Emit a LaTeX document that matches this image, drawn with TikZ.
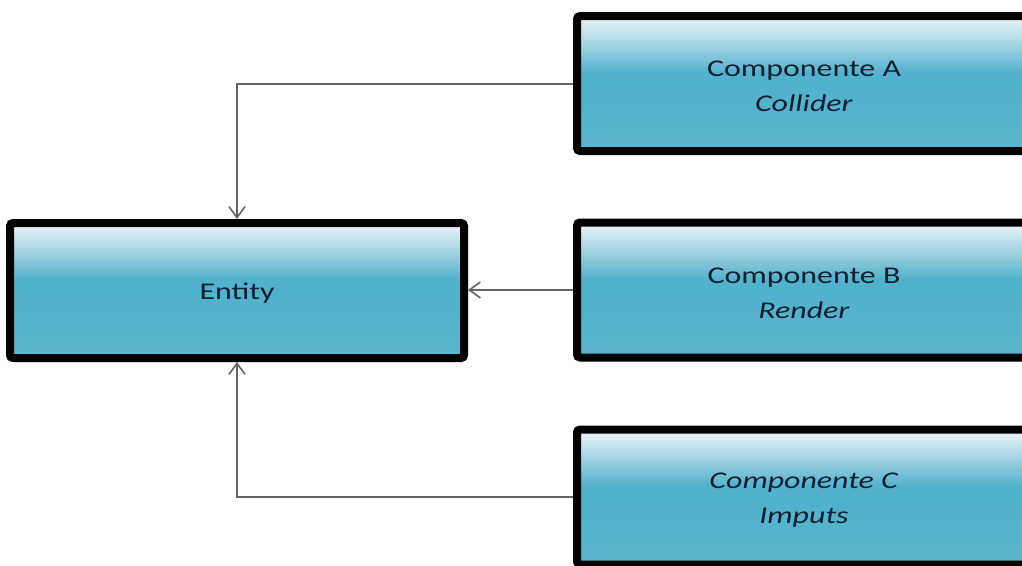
\documentclass[tikz,border=0pt]{standalone}
\usepackage{fontspec}
\setmainfont{Carlito}[FakeStretch=1.33]
\usetikzlibrary{arrows.meta}

\definecolor{boxtop}{RGB}{238,246,249}
\definecolor{boxsoft}{RGB}{160,210,225}
\definecolor{boxmid}{RGB}{82,177,204}
\definecolor{boxlow}{RGB}{92,181,206}
\definecolor{txt}{RGB}{16,32,50}
\definecolor{wire}{RGB}{100,100,100}

% light band at the top, blue body below (path spans 25bp..75bp)
\pgfdeclareverticalshading{boxshade}{100bp}{%
  color(0bp)=(boxlow); color(25bp)=(boxlow); color(47bp)=(boxmid);
  color(54bp)=(boxmid); color(64bp)=(boxsoft); color(75bp)=(boxtop);
  color(100bp)=(boxtop)}

\tikzset{
  compbox/.style={draw=black, line width=8pt, rounded corners=3pt,
    shading=boxshade, minimum width=454pt, minimum height=135pt,
    inner sep=0pt},
  boxtext/.style={text=txt, align=center, inner sep=0pt,
    font=\fontsize{24}{35}\selectfont},
  conn/.style={draw=wire, line width=2pt,
    -{Straight Barb[length=11pt,width=16pt,line width=1.6pt]}}
}

\begin{document}
\begin{tikzpicture}[x=1pt,y=-1pt]
  \useasboundingbox (0,0) rectangle (1022,565);
  \begin{scope}
    \clip (0,0) rectangle (1022,565);
    % boxes
    \node[compbox] (E) at (237,290.5) {};
    \node[compbox] (A) at (804,83.5) {};
    \node[compbox] (B) at (804,290) {};
    \node[compbox] (C) at (804,497) {};
    % labels
    \node[boxtext] (Et) at ([yshift=-3pt]E.center) {Entity};
    \node[boxtext] (At) at ([yshift=-3pt]A.center) {Componente A\\\textit{Collider}};
    \node[boxtext] (Bt) at ([yshift=-3pt]B.center) {Componente B\\\textit{Render}};
    \node[boxtext] (Ct) at ([yshift=-3pt]C.center) {\textit{Componente C}\\\textit{Imputs}};
    % connectors
    \draw[conn] (A.west) -| (E.north);
    \draw[conn] (B.west) -- (B.west -| E.east);
    \draw[conn] (C.west) -| (E.south);
  \end{scope}
\end{tikzpicture}
\end{document}
